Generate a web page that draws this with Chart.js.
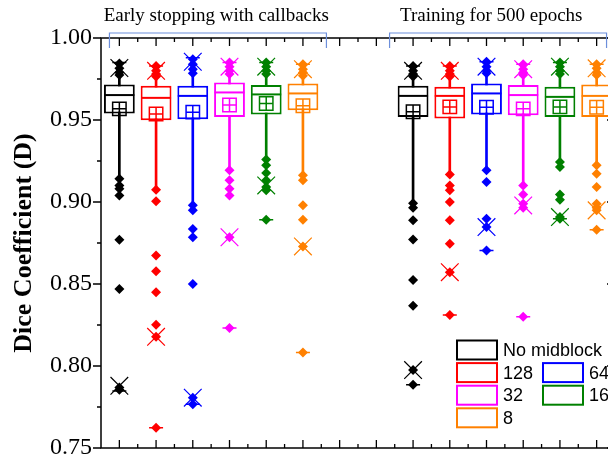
<!DOCTYPE html>
<html><head><meta charset="utf-8">
<script src="https://cdn.jsdelivr.net/npm/chart.js@4.4.0/dist/chart.umd.min.js"></script>
<style>
html,body{margin:0;padding:0;overflow:hidden;background:#fff;width:608px;height:455px}
#wrap{position:relative;width:640px;height:465px}
</style>
</head><body><div id="wrap"><canvas id="c" width="640" height="465"></canvas></div>
<script>
// ---------- data ----------
const groups = ['Early stopping with callbacks', 'Training for 500 epochs'];
const seriesNames = ['No midblock', '128', '64', '32', '16', '8'];
const seriesColors = ['#000000', '#ff0000', '#0000ff', '#ff00ff', '#008000', '#ff8000'];
const categories = ['ES No midblock','ES 128','ES 64','ES 32','ES 16','ES 8','gap a','gap b',
                    'T500 No midblock','T500 128','T500 64','T500 32','T500 16','T500 8'];
const seriesOfCategory = [0,1,2,3,4,5,null,null,0,1,2,3,4,5];
const groupOfCategory  = [0,0,0,0,0,0,null,null,1,1,1,1,1,1];

const q1          = [0.9540,0.9499,0.9505,0.9519,0.9534,0.9560,null,null,0.9519,0.9509,0.9534,0.9529,0.9519,0.9519];
const median      = [0.9652,0.9635,0.9647,0.9668,0.9656,0.9662,null,null,0.9647,0.9647,0.9662,0.9652,0.9641,0.9647];
const q3          = [0.9717,0.9709,0.9709,0.9729,0.9713,0.9723,null,null,0.9709,0.9702,0.9723,0.9713,0.9702,0.9717];
const mean        = [0.9568,0.9537,0.9548,0.9592,0.9601,0.9587,null,null,0.9550,0.9580,0.9578,0.9568,0.9580,0.9578];
const whiskerLow  = [0.9150,0.9085,0.8990,0.9200,0.9265,0.9170,null,null,0.9000,0.9175,0.9200,0.9110,0.9250,0.9230];
const whiskerHigh = [0.9765,0.9755,0.9770,0.9770,0.9770,0.9765,null,null,0.9755,0.9755,0.9775,0.9765,0.9770,0.9770];
const p99         = [0.9817,0.9800,0.9855,0.9825,0.9825,0.9810,null,null,0.9800,0.9800,0.9825,0.9810,0.9825,0.9815];
const p1          = [0.7879,0.8178,0.7807,0.8785,0.9101,0.8729,null,null,0.7975,0.8572,0.8847,0.8979,0.8908,0.8949];
const maxV        = [0.9850,0.9830,0.9880,0.9850,0.9850,0.9840,null,null,0.9830,0.9830,0.9855,0.9840,0.9850,0.9840];
const minV        = [0.7848,0.7624,0.7767,0.8232,0.8892,0.8083,null,null,0.7885,0.8311,0.8704,0.8301,0.8898,0.8831];
const outliers = [
  [0.9845,0.9815,0.9790,0.9775,0.9142,0.9101,0.9081,0.9040,0.8770,0.8470,0.7869,0.7855],
  [0.9830,0.9800,0.9780,0.9765,0.9075,0.9004,0.8674,0.8578,0.8449,0.8252,0.8178,0.7624],
  [0.9870,0.9840,0.9810,0.9785,0.8980,0.8949,0.8835,0.8785,0.8500,0.7807,0.7767],
  [0.9850,0.9825,0.9800,0.9780,0.9193,0.9132,0.9081,0.9040,0.8785,0.8232],
  [0.9850,0.9825,0.9800,0.9780,0.9259,0.9224,0.9177,0.9132,0.9091,0.9071,0.8892],
  [0.9840,0.9810,0.9790,0.9770,0.9163,0.9132,0.8980,0.8892,0.8729,0.8083],
  [], [],
  [0.9830,0.9800,0.9780,0.9765,0.8993,0.8965,0.8888,0.8771,0.8525,0.8368,0.7975,0.7885],
  [0.9830,0.9800,0.9780,0.9765,0.9167,0.9101,0.9071,0.9000,0.8888,0.8745,0.8572,0.8311],
  [0.9855,0.9825,0.9800,0.9785,0.9193,0.9122,0.8898,0.8847,0.8704],
  [0.9840,0.9810,0.9790,0.9775,0.9101,0.9046,0.8990,0.8965,0.8301],
  [0.9850,0.9825,0.9800,0.9780,0.9244,0.9213,0.9046,0.9014,0.8908,0.8898],
  [0.9840,0.9815,0.9790,0.9775,0.9224,0.9173,0.9091,0.8990,0.8965,0.8949,0.8831]
];
const yMin = 0.75, yMax = 1.00, yStep = 0.05;
const yTitle = 'Dice Coefficient (D)';

// ---------- build ----------
const catColor = seriesOfCategory.map(s => s === null ? 'rgba(0,0,0,0)' : seriesColors[s]);
const outPts = [], outCols = [];
outliers.forEach((arr, i) => arr.forEach(v => { outPts.push({x: categories[i], y: v}); outCols.push(catColor[i]); }));
const range = (a, b) => a.map((v, i) => (v === null || b[i] === null) ? null : [v, b[i]]);

function pointSet(label, data, style, radius, bw, order, fill) {
  return {type: 'line', label, data, showLine: false, order,
    pointStyle: style, pointRadius: radius, pointHoverRadius: radius,
    pointBorderColor: catColor, pointBackgroundColor: fill || 'rgba(0,0,0,0)', pointBorderWidth: bw};
}

const serif = "'Liberation Serif','Times New Roman',serif";
const sans = "'Liberation Sans',Arial,sans-serif";

const framePlugin = {
  id: 'frame',
  afterDraw(chart) {
    const ctx = chart.ctx, ca = chart.chartArea;
    const xs = chart.scales.x, ys = chart.scales.y;
    const catW = xs.getPixelForValue(1) - xs.getPixelForValue(0);
    ctx.save();
    ctx.strokeStyle = '#000'; ctx.lineWidth = 1.5;
    ctx.strokeRect(ca.left, ca.top, ca.right - ca.left, ca.bottom - ca.top);
    ctx.lineWidth = 1.3;
    ctx.beginPath();
    // y ticks
    for (let k = 0; k <= Math.round((yMax - yMin) / (yStep / 2)); k++) {
      const v = yMin + k * yStep / 2, y = ys.getPixelForValue(v);
      const major = k % 2 === 0;
      ctx.moveTo(ca.left - (major ? 8 : 4), y); ctx.lineTo(ca.left, y);
      ctx.moveTo(ca.right - (major ? 8 : 4), y); ctx.lineTo(ca.right, y);
    }
    // x ticks
    for (let i = 0; i < categories.length; i++) {
      const x = xs.getPixelForValue(i);
      ctx.moveTo(x, ca.bottom); ctx.lineTo(x, ca.bottom - 8);
      ctx.moveTo(x, ca.top); ctx.lineTo(x, ca.top + 8);
      if (i < categories.length - 1) {
        const xm = x + catW / 2;
        ctx.moveTo(xm, ca.bottom); ctx.lineTo(xm, ca.bottom - 4);
        ctx.moveTo(xm, ca.top); ctx.lineTo(xm, ca.top + 4);
      }
    }
    ctx.stroke();
    // group brackets
    const bracketOff = [[-0.27, 0.64], [-0.64, 0.27]];
    const textCenter = [2.64, 10.13];
    groups.forEach((g, gi) => {
      const idx = groupOfCategory.map((v, i) => v === gi ? i : -1).filter(i => i >= 0);
      const x1 = xs.getPixelForValue(idx[0]) + bracketOff[gi][0] * catW;
      const x2 = xs.getPixelForValue(idx[idx.length - 1]) + bracketOff[gi][1] * catW;
      ctx.strokeStyle = '#6d8fdb'; ctx.lineWidth = 1.2;
      ctx.beginPath();
      ctx.moveTo(x1, ca.top + 10); ctx.lineTo(x1, ca.top - 5); ctx.lineTo(x2, ca.top - 5); ctx.lineTo(x2, ca.top + 10);
      ctx.stroke();
      ctx.fillStyle = '#000'; ctx.font = '19px ' + serif;
      ctx.textAlign = 'center'; ctx.textBaseline = 'alphabetic';
      ctx.fillText(g, xs.getPixelForValue(0) + textCenter[gi] * catW, ca.top - 17);
    });
    // legend
    const legendRows = [[0], [1, 2], [3, 4], [5]];
    const lx = [457, 543], ly = 350, rowH = 22.6;
    ctx.font = '18px ' + sans; ctx.textAlign = 'left'; ctx.textBaseline = 'middle';
    legendRows.forEach((row, r) => row.forEach((s, c) => {
      const y = ly + r * rowH;
      ctx.strokeStyle = seriesColors[s]; ctx.lineWidth = 2;
      ctx.strokeRect(lx[c], y - 9.5, 40, 19);
      ctx.fillStyle = '#000';
      ctx.fillText(seriesNames[s], lx[c] + 46, y + 1);
    }));
    ctx.restore();
  }
};

new Chart(document.getElementById('c'), {
  type: 'bar',
  data: {
    labels: categories,
    datasets: [
      Object.assign(pointSet('outliers', outPts, 'rectRot', 5, 0, 0), {pointBackgroundColor: outCols, pointBorderColor: outCols}),
      pointSet('99%', p99, 'crossRot', 12.5, 1.2, 1),
      pointSet('1%', p1, 'crossRot', 12.5, 1.2, 1),
      pointSet('max', maxV, 'line', 7, 1.5, 1),
      pointSet('min', minV, 'line', 7, 1.5, 1),
      pointSet('mean', mean, 'rect', 9.5, 1.5, 2),
      pointSet('mean+', mean, 'cross', 6.7, 1.5, 2),
      pointSet('median', median, 'line', 15, 2, 3),
      {type: 'bar', label: 'box', data: range(q1, q3), order: 4, grouped: false,
       backgroundColor: '#fff', borderColor: catColor, borderWidth: 2, borderSkipped: false,
       barPercentage: 0.84, categoryPercentage: 1},
      {type: 'bar', label: 'whisker', data: range(whiskerLow, whiskerHigh), order: 5, grouped: false,
       backgroundColor: catColor, borderWidth: 0, barThickness: 2, categoryPercentage: 1}
    ]
  },
  options: {
    responsive: false, animation: false, events: [],
    layout: {padding: {left: 0, top: 38, right: 25, bottom: 0}},
    plugins: {legend: {display: false}, tooltip: {enabled: false}},
    scales: {
      x: {type: 'category', offset: true, grid: {display: false}, border: {display: false},
          ticks: {display: false}, afterFit: s => { s.height = 8; }},
      y: {min: yMin, max: yMax, border: {display: false},
          grid: {display: true, drawOnChartArea: false, drawTicks: true, tickLength: 9, color: 'rgba(0,0,0,0)'},
          ticks: {stepSize: yStep, color: '#000', padding: 0, font: {family: serif, size: 24, lineHeight: 0.6},
                  callback: v => v.toFixed(2)},
          title: {display: true, text: yTitle, color: '#000', font: {family: serif, size: 26, weight: 'bold'},
                  padding: {top: 9, bottom: 0}},
          afterFit: s => { s.width = 101; }}
    }
  },
  plugins: [framePlugin]
});
</script>
</body></html>
